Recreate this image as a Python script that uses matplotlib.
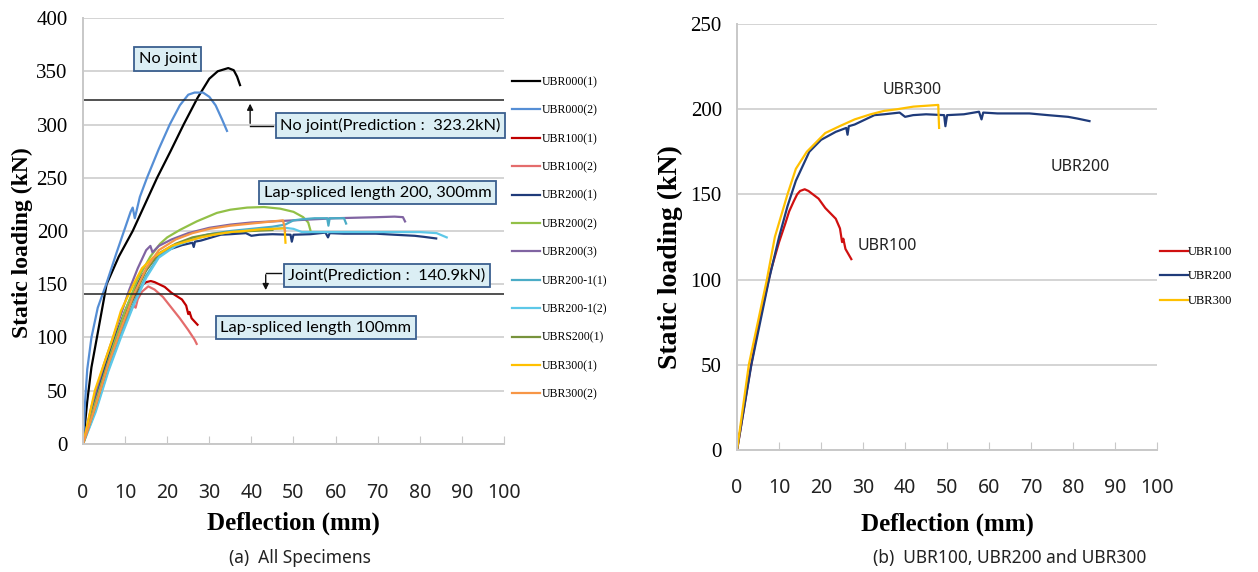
# Import libraries
import matplotlib
matplotlib.use("Agg")
import matplotlib.pyplot as plt

# Data (deflection in mm, load in kN)
ubr000_1_x = [0, 1, 2, 3.3, 5.6, 8.5, 11.8, 14.7, 17.6, 20.8, 23.9, 27.2, 30, 32, 34.5, 35.8, 36.6, 37.3]
ubr000_1_y = [0, 40, 72, 100, 150, 176, 200, 225, 250, 275, 300, 325, 343, 350, 353, 351, 345, 337]

ubr000_2_x = [0, 0.5, 1, 2, 3.5, 5.5, 8, 10, 11.3, 11.8, 12.3, 13.5, 15.2, 18, 20.6, 23, 25, 26.5, 28.5, 30, 31.5, 33, 34.2]
ubr000_2_y = [0, 40, 70, 100, 128, 150, 180, 203, 218, 222, 212, 232, 250, 277, 300, 318, 328, 330, 330, 326, 318, 305, 294]

ubr100_1_x = [0, 3, 5, 8, 10, 11.5, 12.4, 13.5, 14.3, 15, 16.1, 17, 19.4, 21, 23.5, 24.5, 25, 25.3, 25.8, 27.2]
ubr100_1_y = [0, 45, 72, 105, 122, 133, 140, 146, 150, 152, 153, 152, 147.5, 142, 135.7, 130, 122, 124, 118, 112]

ubr100_2_x = [0, 2, 5, 8, 10, 12, 12.5, 13, 14, 15.5, 17, 19, 21, 23, 25, 26.5, 27]
ubr100_2_y = [0, 28, 68, 98, 116, 130, 128, 136, 143, 148, 145, 138, 128, 118, 107, 98, 94]

ubr200_1_x = [0, 3.4, 7.6, 10, 12, 14, 17.2, 20, 23.5, 26, 26.3, 26.6, 28, 32.7, 35, 38.7, 40, 41.9, 45,
              49.3, 49.6, 50, 54, 57.6, 58.2, 58.6, 62, 66, 69.6, 74, 78.8, 81, 83.9]
ubr200_1_y = [0, 50, 100, 125, 143, 158, 175, 182, 186.7, 189, 185, 190, 191, 196.5, 197, 198, 195.5, 196.5, 197,
              196.5, 190, 196.5, 197, 198.5, 194, 198, 197.5, 197.5, 197.5, 196.5, 195.5, 194.5, 193]

ubr200_2_x = [0, 3, 7, 10, 13, 16, 18.3, 20, 23, 27, 31.8, 35, 39, 43, 46.8, 50, 52.3, 53.5, 54]
ubr200_2_y = [0, 40, 90, 125, 155, 176, 188, 194, 201, 209, 217, 220, 222, 222.5, 221, 218, 213, 208, 201]

ubr200_3_x = [0, 2, 5, 8, 11, 13, 15, 16, 16.5, 18, 21, 25, 30, 35, 40, 45, 50, 55, 60, 65, 70, 74, 76, 76.5]
ubr200_3_y = [0, 35, 75, 110, 145, 165, 182, 186, 180, 186, 192, 198, 203, 206, 208, 209, 210, 211, 212, 212.5, 213, 213.5, 213, 209]

ubr200_11_x = [0, 3, 6, 9, 12, 15, 18, 22, 26, 30, 35, 40, 45, 48, 50, 52, 55, 58, 58.3, 58.6, 62, 62.5]
ubr200_11_y = [0, 32, 70, 102, 132, 158, 176, 187, 193, 197, 200, 202, 204, 206, 210, 211, 212, 212, 205, 212, 212, 207]

ubr200_12_x = [0, 3, 6, 9, 12, 15, 18, 22, 26, 30, 35, 40, 45, 48, 50, 52, 55, 60, 70, 80, 84, 86.4]
ubr200_12_y = [0, 30, 68, 100, 130, 156, 175, 186, 192, 196, 199, 201, 202, 203, 202, 199, 199, 199, 199, 199, 198, 194]

ubrs200_1_x = [0, 3, 6, 9, 12, 15, 18, 22, 26, 30, 35, 40, 45]
ubrs200_1_y = [0, 36, 76, 108, 138, 163, 179, 188, 194, 197, 199, 200, 201]

ubr300_1_x = [0, 2.8, 7.1, 9, 12, 14, 16.6, 19, 21, 24.4, 28, 31.8, 35, 38.2, 42, 45, 47.9, 48, 48.1]
ubr300_1_y = [0, 50, 100, 125, 150, 165, 175, 181, 186, 190, 194, 197, 199, 200, 201.5, 202, 202.5, 195, 189]

ubr300_2_x = [0, 3, 6, 9, 12, 15, 18, 22, 26, 30, 35, 40, 45, 47.5, 47.8, 48]
ubr300_2_y = [0, 36, 75, 108, 140, 165, 182, 192, 198, 202, 205, 207, 209, 210, 205, 200]

all_labels = ["UBR000(1)", "UBR000(2)", "UBR100(1)", "UBR100(2)", "UBR200(1)", "UBR200(2)",
              "UBR200(3)", "UBR200-1(1)", "UBR200-1(2)", "UBRS200(1)", "UBR300(1)", "UBR300(2)"]
all_colors = ["#000000", "#558ed5", "#c00000", "#e46c6c", "#1f3b7a", "#92c047",
              "#8064a2", "#4bacc6", "#5dc8e8", "#77933c", "#ffc000", "#f79646"]
all_x = [ubr000_1_x, ubr000_2_x, ubr100_1_x, ubr100_2_x, ubr200_1_x, ubr200_2_x,
         ubr200_3_x, ubr200_11_x, ubr200_12_x, ubrs200_1_x, ubr300_1_x, ubr300_2_x]
all_y = [ubr000_1_y, ubr000_2_y, ubr100_1_y, ubr100_2_y, ubr200_1_y, ubr200_2_y,
         ubr200_3_y, ubr200_11_y, ubr200_12_y, ubrs200_1_y, ubr300_1_y, ubr300_2_y]

pred_no_joint = 323.2
pred_joint = 140.9

sel_labels = ["UBR100", "UBR200", "UBR300"]
sel_colors = ["#d01010", "#1f3b7a", "#ffc000"]
sel_x = [ubr100_1_x, ubr200_1_x, ubr300_1_x]
sel_y = [ubr100_1_y, ubr200_1_y, ubr300_1_y]

x_ticks = list(range(0, 101, 10))

SERIF = "Liberation Serif"
GRID = "#d4d4d4"


def style_axes(ax, ymax, xpad, xlpad, ylsize, ylx, yly):
    ax.set_xlim(0, 100)
    ax.set_ylim(0, ymax)
    ax.set_xticks(x_ticks)
    ax.set_yticks(range(0, ymax + 1, 50))
    ax.yaxis.grid(True, color=GRID, lw=1.4)
    ax.set_axisbelow(True)
    for s in ["top", "right"]:
        ax.spines[s].set_visible(False)
    for s in ["left", "bottom"]:
        ax.spines[s].set_color("#c8c8c8")
        ax.spines[s].set_linewidth(1.4)
    ax.tick_params(axis="x", direction="in", length=6, color="#c8c8c8", pad=xpad, labelsize=14)
    ax.tick_params(axis="y", length=0, pad=11, labelsize=15)
    for t in ax.get_xticklabels():
        t.set_fontfamily("Noto Sans")
        t.set_color("#222222")
    for t in ax.get_yticklabels():
        t.set_fontfamily(SERIF)
    ax.set_xlabel("Deflection (mm)", fontfamily=SERIF, fontweight="bold", fontsize=18, labelpad=xlpad)
    ax.set_ylabel("Static loading (kN)", fontfamily=SERIF, fontweight="bold", fontsize=ylsize)
    ax.yaxis.set_label_coords(ylx, yly)


def box_text(ax, x, y, text):
    ax.text(x, y, text, ha="center", va="center", fontsize=11.8, fontfamily="Lato", color="#000000",
            clip_on=False,
            bbox=dict(boxstyle="square,pad=0.28", fc="#dbeef4", ec="#3a5f8f", lw=1.3))


def all_specimens(fig):
    ax = fig.add_axes([0.066, 0.2238, 0.3346, 0.7447])
    for x, y, c, lab in zip(all_x, all_y, all_colors, all_labels):
        ax.plot(x, y, color=c, lw=1.6, label=lab)
    style_axes(ax, 400, 28, 6, 17, -0.118, 0.472)

    ax.axhline(pred_no_joint, color="#222222", lw=1.1)
    ax.axhline(pred_joint, color="#222222", lw=1.1)

    # elbow arrows to the prediction lines
    ax.plot([39.7, 45.1], [299, 299], color="#111111", lw=1)
    ax.annotate("", xy=(39.7, pred_no_joint - 1), xytext=(39.7, 298.5),
                arrowprops=dict(arrowstyle="-|>", color="#111111", lw=1, mutation_scale=9))
    ax.plot([43.4, 47], [161, 161], color="#111111", lw=1)
    ax.annotate("", xy=(43.4, pred_joint + 1), xytext=(43.4, 161.5),
                arrowprops=dict(arrowstyle="-|>", color="#111111", lw=1, mutation_scale=9))

    box_text(ax, 20.1, 361.5, "No joint")
    box_text(ax, 73, 299, "No joint(Prediction :  323.2kN)")
    box_text(ax, 70, 236, "Lap-spliced length 200, 300mm")
    box_text(ax, 72.2, 158, "Joint(Prediction :  140.9kN)")
    box_text(ax, 55.3, 109, "Lap-spliced length 100mm")

    ax.legend(loc="upper left", bbox_to_anchor=(512 / 1258, 1 - 76 / 572), bbox_transform=fig.transFigure,
              frameon=False, prop={"family": SERIF, "size": 8.5}, handlelength=2.4, handletextpad=0.1,
              labelspacing=1.39, borderpad=0, borderaxespad=0)
    fig.text(300 / 1258, 1 - 558 / 572, "(a)  All Specimens", ha="center", va="center",
             fontsize=12.5, fontfamily="Noto Sans", color="#222222")


def selected(fig):
    ax = fig.add_axes([0.5859, 0.2133, 0.3339, 0.7448])
    for x, y, c, lab in zip(sel_x, sel_y, sel_colors, sel_labels):
        ax.plot(x, y, color=c, lw=1.6, label=lab)
    style_axes(ax, 250, 20, 11, 20, -0.128, 0.453)

    ax.text(41.7, 211, "UBR300", ha="center", va="center", fontsize=11.5, fontfamily="Noto Sans", color="#222222")
    ax.text(81.6, 166, "UBR200", ha="center", va="center", fontsize=11.5, fontfamily="Noto Sans", color="#222222")
    ax.text(35.7, 119.6, "UBR100", ha="center", va="center", fontsize=11.5, fontfamily="Noto Sans", color="#222222")

    ax.legend(loc="upper left", bbox_to_anchor=(1160 / 1258, 1 - 246 / 572), bbox_transform=fig.transFigure,
              frameon=False, prop={"family": SERIF, "size": 9}, handlelength=2.2, handletextpad=0.05,
              labelspacing=1.0, borderpad=0, borderaxespad=0)
    fig.text(1010 / 1258, 1 - 558 / 572, "(b)  UBR100, UBR200 and UBR300", ha="center", va="center",
             fontsize=12.5, fontfamily="Noto Sans", color="#222222")


fig = plt.figure(figsize=(12.58, 5.72), dpi=100)
all_specimens(fig)
selected(fig)
fig.savefig("out.png", dpi=100)
